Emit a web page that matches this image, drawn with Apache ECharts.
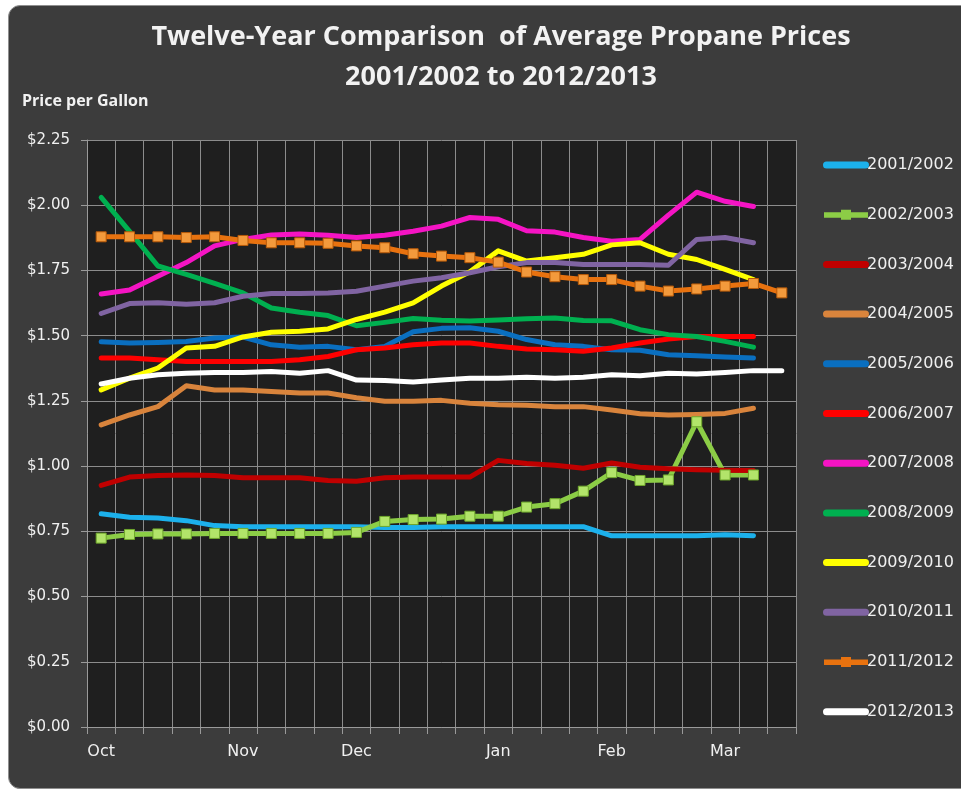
<!DOCTYPE html>
<html style="height: 100%">
<head>
    <meta charset="UTF-8">
    <title>Twelve-Year Comparison of Average Propane Prices</title>
    <script src="https://cdn.jsdelivr.net/npm/echarts/dist/echarts.min.js"></script>
    <style>
        body { margin: 0; background: #ffffff; overflow: hidden; }
        #frame {
            position: absolute; left: 8px; top: 5px; width: 1000px; height: 782px;
            background: #3c3c3c; border: 1px solid #8f8f8f; border-radius: 12px;
        }
        #main { position: absolute; left: 0; top: 0; width: 961px; height: 791px; }
    </style>
</head>
<body>
    <div id="frame"></div>
    <div id="main"></div>
    <script type="text/javascript">
        // weekly points, Oct .. Mar (25 weeks)
        var weeks = ['w1', 'w2', 'w3', 'w4', 'w5', 'w6', 'w7', 'w8', 'w9', 'w10', 'w11', 'w12', 'w13',
            'w14', 'w15', 'w16', 'w17', 'w18', 'w19', 'w20', 'w21', 'w22', 'w23', 'w24', 'w25'];
        var monthLabels = { 0: 'Oct', 5: 'Nov', 9: 'Dec', 14: 'Jan', 18: 'Feb', 22: 'Mar' };

        var y2001 = [0.817, 0.804, 0.801, 0.791, 0.772, 0.768, 0.768, 0.768, 0.768, 0.768, 0.765, 0.765,
            0.768, 0.768, 0.768, 0.768, 0.768, 0.768, 0.733, 0.733, 0.733, 0.733, 0.737, 0.733];
        var y2002 = [0.724, 0.738, 0.740, 0.740, 0.742, 0.742, 0.742, 0.742, 0.742, 0.746, 0.788, 0.795,
            0.797, 0.808, 0.808, 0.843, 0.856, 0.904, 0.975, 0.945, 0.947, 1.170, 0.966, 0.966];
        var y2003 = [0.926, 0.958, 0.964, 0.966, 0.964, 0.955, 0.955, 0.955, 0.945, 0.942, 0.955, 0.958,
            0.958, 0.958, 1.022, 1.010, 1.003, 0.992, 1.012, 0.996, 0.990, 0.986, 0.984, 0.983];
        var y2004 = [1.158, 1.196, 1.228, 1.308, 1.292, 1.292, 1.286, 1.280, 1.280, 1.262, 1.249, 1.249,
            1.252, 1.241, 1.235, 1.233, 1.228, 1.228, 1.215, 1.201, 1.196, 1.198, 1.202, 1.222];
        var y2005 = [1.477, 1.472, 1.474, 1.478, 1.491, 1.495, 1.465, 1.456, 1.459, 1.446, 1.459, 1.515,
            1.528, 1.530, 1.517, 1.485, 1.465, 1.459, 1.446, 1.444, 1.427, 1.423, 1.418, 1.414];
        var y2006 = [1.414, 1.414, 1.408, 1.401, 1.401, 1.401, 1.401, 1.408, 1.420, 1.446, 1.453, 1.465,
            1.472, 1.472, 1.459, 1.449, 1.446, 1.440, 1.453, 1.472, 1.487, 1.497, 1.497, 1.497];
        var y2007 = [1.660, 1.675, 1.728, 1.780, 1.844, 1.869, 1.886, 1.890, 1.885, 1.876, 1.885, 1.900,
            1.920, 1.953, 1.946, 1.902, 1.897, 1.876, 1.862, 1.869, 1.962, 2.050, 2.015, 1.995];
        var y2008 = [2.030, 1.900, 1.767, 1.735, 1.700, 1.664, 1.606, 1.590, 1.577, 1.538, 1.551, 1.566,
            1.559, 1.556, 1.560, 1.565, 1.568, 1.558, 1.557, 1.523, 1.504, 1.497, 1.478, 1.456];
        var y2009 = [1.292, 1.337, 1.376, 1.453, 1.459, 1.495, 1.513, 1.517, 1.526, 1.562, 1.590, 1.626,
            1.690, 1.745, 1.825, 1.786, 1.799, 1.812, 1.848, 1.856, 1.812, 1.792, 1.754, 1.715];
        var y2010 = [1.585, 1.623, 1.626, 1.620, 1.626, 1.651, 1.662, 1.662, 1.664, 1.670, 1.690, 1.709,
            1.722, 1.741, 1.764, 1.780, 1.780, 1.773, 1.773, 1.773, 1.770, 1.869, 1.876, 1.856];
        var y2011 = [1.879, 1.879, 1.879, 1.876, 1.879, 1.865, 1.856, 1.856, 1.854, 1.844, 1.837, 1.814,
            1.805, 1.799, 1.782, 1.744, 1.726, 1.715, 1.715, 1.690, 1.671, 1.679, 1.690, 1.700, 1.664];
        var y2012 = [1.315, 1.337, 1.350, 1.356, 1.359, 1.359, 1.363, 1.356, 1.366, 1.330, 1.328, 1.322,
            1.330, 1.337, 1.337, 1.341, 1.337, 1.341, 1.350, 1.346, 1.356, 1.353, 1.359, 1.366, 1.366];

        var seasons = ['2001/2002', '2002/2003', '2003/2004', '2004/2005', '2005/2006', '2006/2007',
            '2007/2008', '2008/2009', '2009/2010', '2010/2011', '2011/2012', '2012/2013'];
        var values = [y2001, y2002, y2003, y2004, y2005, y2006, y2007, y2008, y2009, y2010, y2011, y2012];
        var colors = ['#1cb1ec', '#8ccd46', '#c00000', '#d9843c', '#0a6fc0', '#ff0000',
            '#f514c4', '#00b050', '#ffff00', '#8064a2', '#e8720f', '#ffffff'];
        var marked = ['2002/2003', '2011/2012'];

        // legend icons: a thick bar, or a bar with a square in the middle
        var barIcon = 'path://M0,0L0.05,0L0,0.05Z M3.5,1.5L42.5,1.5A3.5,3.5 0 0 1 42.5,8.5L3.5,8.5A3.5,3.5 0 0 1 3.5,1.5Z M46,10L45.95,10L46,9.95Z';
        var markIcon = 'path://M1,2.5L18,2.5L18,0L28,0L28,2.5L45,2.5L45,8L28,8L28,10L18,10L18,8L1,8Z';

        var chartDom = document.getElementById('main');
        var myChart = echarts.init(chartDom);
        var font = '"Liberation Sans Narrow", "Open Sans", sans-serif';

        var series = seasons.map(function (name, i) {
            var isMarked = marked.indexOf(name) >= 0;
            return {
                name: name,
                type: 'line',
                data: values[i],
                symbol: isMarked ? 'rect' : 'none',
                symbolSize: 10,
                showSymbol: isMarked,
                lineStyle: { width: 5, color: colors[i], cap: 'round', join: 'round' },
                itemStyle: {
                    color: isMarked ? (i === 1 ? '#b2e46a' : '#f39a3c') : colors[i],
                    borderColor: isMarked ? (i === 1 ? '#6fa82c' : '#b85a08') : colors[i],
                    borderWidth: 1
                },
                emphasis: { disabled: true }
            };
        });

        var legendData = seasons.map(function (name, i) {
            var isMarked = marked.indexOf(name) >= 0;
            return {
                name: name,
                icon: isMarked ? markIcon : barIcon,
                itemStyle: { color: colors[i], borderWidth: 0 }
            };
        });

        var option = {
            backgroundColor: 'transparent',
            animation: false,
            title: {
                text: 'Twelve-Year Comparison  of Average Propane Prices\n2001/2002 to 2012/2013',
                left: 496,
                top: 12,
                textAlign: 'center',
                textStyle: {
                    color: '#f2f2f2', fontSize: 27, fontWeight: 'bold', fontFamily: font, lineHeight: 40
                }
            },
            graphic: [{
                type: 'text',
                left: 22,
                top: 93,
                style: { text: 'Price per Gallon', fill: '#f2f2f2', font: 'bold 16px ' + font }
            }],
            legend: {
                orient: 'vertical',
                left: 818,
                top: 150,
                itemWidth: 46,
                itemHeight: 10,
                itemGap: 29.7,
                data: legendData,
                textStyle: { color: '#f0f0f0', fontSize: 16, lineHeight: 20, fontFamily: 'DejaVu Sans', padding: [0, 0, 0, -7] }
            },
            grid: {
                left: 87,
                right: 165,
                top: 140,
                bottom: 64,
                show: true,
                backgroundColor: '#1f1f1f',
                borderWidth: 0
            },
            xAxis: {
                type: 'category',
                data: weeks,
                boundaryGap: true,
                axisLine: { lineStyle: { color: '#9a9a9a' } },
                axisTick: { show: true, interval: 0, length: 7, lineStyle: { color: '#9a9a9a' } },
                splitLine: { show: true, interval: 0, lineStyle: { color: '#8c8c8c', width: 1 } },
                axisLabel: {
                    interval: 0,
                    color: '#f0f0f0',
                    fontSize: 16,
                    margin: 17,
                    fontFamily: 'DejaVu Sans',
                    formatter: function (v, idx) { return monthLabels[idx] || ''; }
                }
            },
            yAxis: {
                type: 'value',
                min: 0,
                max: 2.25,
                interval: 0.25,
                axisLine: { show: true, lineStyle: { color: '#9a9a9a' } },
                axisTick: { show: true, length: 6, lineStyle: { color: '#9a9a9a' } },
                splitLine: { show: true, lineStyle: { color: '#8c8c8c', width: 1 } },
                axisLabel: {
                    color: '#f0f0f0',
                    fontSize: 15,
                    margin: 17,
                    fontFamily: 'DejaVu Sans',
                    formatter: function (v) { return '$' + v.toFixed(2); }
                }
            },
            series: series
        };

        myChart.setOption(option);
    </script>
</body>
</html>
